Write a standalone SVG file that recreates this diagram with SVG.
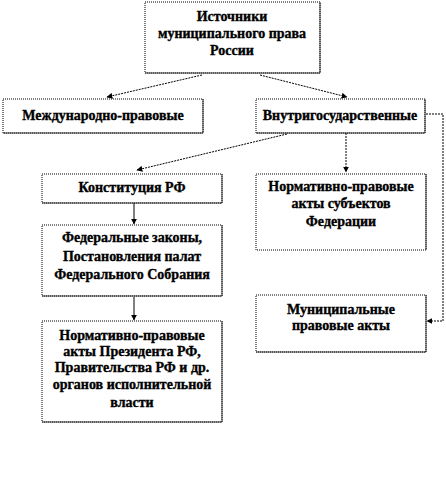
<svg xmlns="http://www.w3.org/2000/svg" width="446" height="491" viewBox="0 0 446 491">
<defs>
<marker id="ah" viewBox="0 0 10 10" refX="9" refY="5" markerWidth="6" markerHeight="6" orient="auto" markerUnits="userSpaceOnUse">
<path d="M0,0 L10,5 L0,10 z" fill="#000"/>
</marker>
<style>
.box{fill:#fff;stroke:#000;stroke-width:1;stroke-dasharray:1 1;}
.edge{fill:none;stroke:#333;stroke-width:1;}
.t{font-family:"Liberation Serif","Times New Roman",serif;font-weight:bold;font-size:14px;fill:#000;stroke:#000;stroke-width:0.35;text-anchor:middle;}
.dot{fill:none;stroke:#000;stroke-width:1;stroke-dasharray:2 1;}
.sol{fill:none;stroke:#000;stroke-width:1;}
</style>
</defs>
<rect width="446" height="491" fill="#fff"/>
<g id="connectors">
<line class="dot" x1="202" y1="75" x2="107" y2="97" marker-end="url(#ah)"/>
<line class="dot" x1="260" y1="75" x2="347" y2="97" marker-end="url(#ah)"/>
<line class="dot" x1="287" y1="134" x2="137" y2="170" marker-end="url(#ah)"/>
<line class="dot" x1="346" y1="133" x2="346" y2="172" marker-end="url(#ah)"/>
<line class="sol" x1="134" y1="203" x2="134" y2="224" marker-end="url(#ah)"/>
<line class="sol" x1="134" y1="297" x2="134" y2="320" marker-end="url(#ah)"/>
<polyline class="dot" points="426,114 443,114 443,321 427,321" marker-end="url(#ah)"/>
</g>
<g id="n-root">
<rect class="box" x="145" y="2" width="175" height="71"/>
<path class="edge" d="M320,2 V73 H145"/>
<text class="t" x="232" y="21">Источники</text>
<text class="t" x="232" y="38">муниципального  права</text>
<text class="t" x="232" y="55">России</text>
</g>
<g id="n-intl">
<rect class="box" x="3" y="99" width="200" height="34"/>
<path class="edge" d="M203,99 V133 H3"/>
<text class="t" x="103" y="120">Международно-правовые</text>
</g>
<g id="n-domestic">
<rect class="box" x="256" y="99" width="169" height="34"/>
<path class="edge" d="M425,99 V133 H256"/>
<text class="t" x="340" y="120">Внутригосударственные</text>
</g>
<g id="n-const">
<rect class="box" x="42" y="174" width="180" height="29"/>
<path class="edge" d="M222,174 V203 H42"/>
<text class="t" x="132" y="192">Конституция РФ</text>
</g>
<g id="n-subjects">
<rect class="box" x="256" y="174" width="170" height="76"/>
<path class="edge" d="M426,174 V250"/>
<text class="t" x="341" y="191">Нормативно-правовые</text>
<text class="t" x="341" y="208">акты субъектов</text>
<text class="t" x="341" y="226">Федерации</text>
</g>
<g id="n-federal">
<rect class="box" x="42" y="225" width="180" height="71"/>
<path class="edge" d="M222,225 V296 H42"/>
<text class="t" x="132" y="242">Федеральные законы,</text>
<text class="t" x="132" y="261">Постановления палат</text>
<text class="t" x="132" y="279">Федерального Собрания</text>
</g>
<g id="n-municipal">
<rect class="box" x="256" y="295" width="170" height="57"/>
<path class="edge" d="M426,295 V352 H256"/>
<text class="t" x="341" y="314">Муниципальные</text>
<text class="t" x="341" y="330">правовые акты</text>
</g>
<g id="n-exec">
<rect class="box" x="42" y="321" width="180" height="101"/>
<path class="edge" d="M222,321 V422 H42"/>
<text class="t" x="132" y="340">Нормативно-правовые</text>
<text class="t" x="132" y="356">акты Президента РФ,</text>
<text class="t" x="132" y="372">Правительства РФ и др.</text>
<text class="t" x="132" y="389">органов  исполнительной</text>
<text class="t" x="132" y="407">власти</text>
</g>
</svg>
